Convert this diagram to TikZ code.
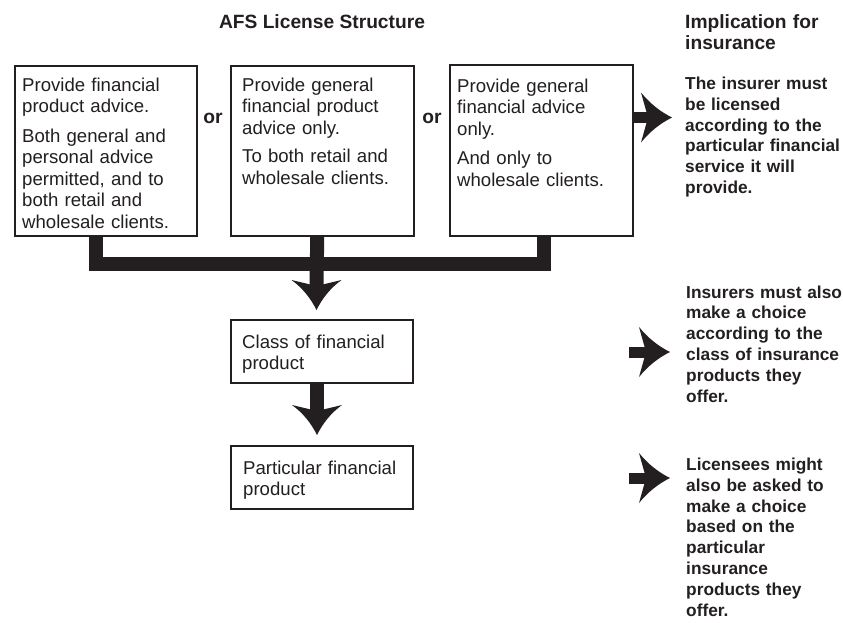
\documentclass[tikz,border=0pt]{standalone}
\usepackage{fontspec}
\setmainfont{Liberation Sans}
\usetikzlibrary{backgrounds}
\definecolor{ink}{HTML}{231F20}
\tikzset{
  box/.style={draw=ink, line width=1.5pt, fill=white, anchor=north west, inner sep=0pt},
  txt/.style={anchor=base west, inner sep=0pt, text width=200pt, align=left, text=ink, font=\fontsize{18.6}{21.5}\selectfont},
  btxt/.style={anchor=base west, inner sep=0pt, text width=200pt, align=left, text=ink, font=\bfseries\fontsize{17.3}{20.8}\selectfont},
  headtxt/.style={text=ink, inner sep=0pt, font=\bfseries\fontsize{19.2}{21}\selectfont},
  bar/.style={draw=ink, line width=14pt},
  shaft/.style={draw=ink, line width=11pt},
  arrowD/.pic={\fill[ink] (0,0) .. controls (-6,-12) and (-14,-22) .. (-25,-30) -- (0,-24) -- (25,-30) .. controls (14,-22) and (6,-12) .. (0,0) -- cycle;},
  arrowR/.pic={\fill[ink] (0,0) .. controls (-12,-6) and (-22,-14) .. (-31,-25) -- (-24,0) -- (-31,25) .. controls (-22,14) and (-12,6) .. (0,0) -- cycle;}
}
\begin{document}
\begin{tikzpicture}[x=1pt,y=-1pt]
\useasboundingbox (0,0) rectangle (843,622);
% boxes
\node[box, minimum width=182pt, minimum height=170pt] (b1) at (14,65) {};
\node[box, minimum width=183pt, minimum height=170pt] (b2) at (230,65) {};
\node[box, minimum width=183pt, minimum height=171pt] (b3) at (449,64) {};
\node[box, minimum width=182pt, minimum height=63pt] (cls) at (230,319) {};
\node[box, minimum width=182pt, minimum height=63pt] (part) at (230,445) {};
% connectors
\coordinate (d1) at (316.5,310);
\coordinate (d2) at (317,435);
\coordinate (r1) at (672,117.5);
\coordinate (r2) at (670,352);
\coordinate (r3) at (670,478);
\coordinate (s2) at (629,352);
\coordinate (s3) at (629,478);
\begin{scope}[on background layer]
\draw[bar] ([xshift=-10pt]b1.south) -- ++(0,27) -| ([xshift=3pt]b3.south);
\draw[bar] ([xshift=-5pt]b2.south) -- ([yshift=24pt]d1);
\draw[bar] (cls.south -| d2) -- ([yshift=24pt]d2);
\draw[shaft] (b3.east |- r1) -- ([xshift=-24pt]r1);
\end{scope}
\pic at (d1) {arrowD};
\pic at (d2) {arrowD};
\pic at (r1) {arrowR};
\draw[shaft] (s2) -- ([xshift=-24pt]r2);
\pic at (r2) {arrowR};
\draw[shaft] (s3) -- ([xshift=-24pt]r3);
\pic at (r3) {arrowR};
% texts
\node[headtxt] (title) at (322,22) {AFS License Structure};
\node[headtxt, anchor=base west, align=left, text width=160pt] (imp) at (685,28.5) {Implication for\\[-0.5pt] insurance};
\node[headtxt] (or1) at (213,118) {or};
\node[headtxt] (or2) at (432,118) {or};
\node[txt] (t1) at (22,91) {Provide financial\\ product advice.\\[8pt] Both general and\\ personal advice\\ permitted, and to\\ both retail and\\ wholesale clients.};
\node[txt] (t2) at (242,91) {Provide general\\ financial product\\ advice only.\\[7pt] To both retail and\\ wholesale clients.};
\node[txt] (t3) at (457,92) {Provide general\\ financial advice\\ only.\\[8pt] And only to\\ wholesale clients.};
\node[txt] (tc) at (242,348) {Class of financial\\ product};
\node[txt] (tp) at (243,474) {Particular financial\\ product};
\node[btxt] (i1) at (685,89.5) {The insurer must\\ be licensed\\ according to the\\ particular financial\\ service it will\\ provide.};
\node[btxt] (i2) at (686,298) {Insurers must also\\ make a choice\\ according to the\\ class of insurance\\ products they\\ offer.};
\node[btxt] (i3) at (686,470.5) {Licensees might\\ also be asked to\\ make a choice\\ based on the\\ particular\\ insurance\\ products they\\ offer.};
\end{tikzpicture}
\end{document}
